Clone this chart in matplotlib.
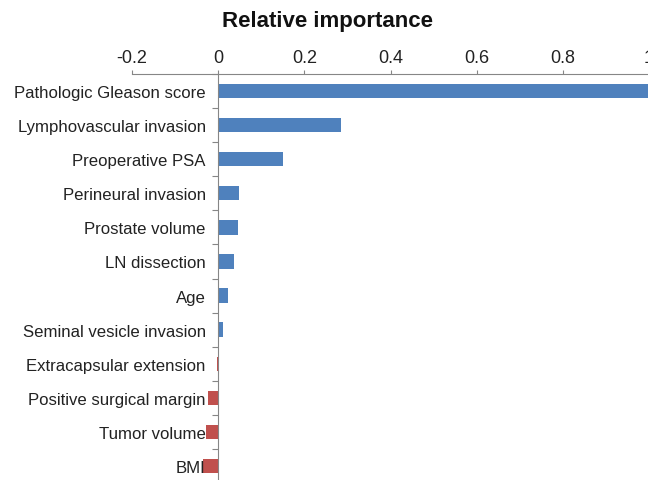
import numpy as np
import matplotlib
matplotlib.use('Agg')
import matplotlib.pyplot as plt
from matplotlib.ticker import FixedLocator, FuncFormatter

plt.rcParams['font.family'] = ['Liberation Sans', 'DejaVu Sans']

# data
labels = ['Pathologic Gleason score', 'Lymphovascular invasion', 'Preoperative PSA',
          'Perineural invasion', 'Prostate volume', 'LN dissection', 'Age',
          'Seminal vesicle invasion', 'Extracapsular extension',
          'Positive surgical margin', 'Tumor volume', 'BMI']
values = [1.0, 0.284, 0.151, 0.049, 0.047, 0.037, 0.023, 0.011,
          -0.003, -0.024, -0.029, -0.036]
xticks = [-0.2, 0, 0.2, 0.4, 0.6, 0.8, 1.0]

blue = '#4F81BD'
red = '#C0504D'
grey = '#868686'

def tick_fmt(x, pos):
    if abs(x) < 1e-9:
        return '0'
    if abs(x - round(x)) < 1e-9:
        return '%d' % round(x)
    return '%g' % x

fig = plt.figure(figsize=(6.48, 4.81), dpi=100)
# axes runs a bit past the right and bottom edges, like the original crop
ax = fig.add_axes([132 / 648, 1 - 484 / 481, 517 / 648, 409 / 481])

y = np.arange(len(labels))
colors = [blue if v >= 0 else red for v in values]
ax.barh(y, values, height=0.42, color=colors)

ax.set_xlim(-0.2, 1.0)
ax.set_ylim(len(labels) - 0.5, -0.5)

ax.xaxis.set_major_locator(FixedLocator(xticks))
ax.xaxis.set_major_formatter(FuncFormatter(tick_fmt))
ax.xaxis.tick_top()
ax.tick_params(axis='x', which='major', top=True, bottom=False, direction='out',
               length=3, width=0.8, color=grey, labelsize=13, pad=3,
               labelcolor='#222222')

ax.set_yticks(y)
ax.set_yticklabels(labels)
ax.set_yticks(np.arange(len(labels) + 1) - 0.5, minor=True)
ax.tick_params(axis='y', which='major', length=0, labelsize=12.1, pad=9,
               labelcolor='#222222')
ax.tick_params(axis='y', which='minor', length=4, width=0.8, color=grey,
               direction='out')

ax.spines['left'].set_position(('data', 0))
ax.spines['left'].set_color(grey)
ax.spines['top'].set_color(grey)
ax.spines['bottom'].set_visible(False)
ax.spines['right'].set_visible(False)

fig.text(327 / 648, 1 - 21 / 481, 'Relative importance', ha='center', va='center',
         fontsize=16, fontweight='bold', color='#111111')

fig.savefig('out.png', dpi=100)
